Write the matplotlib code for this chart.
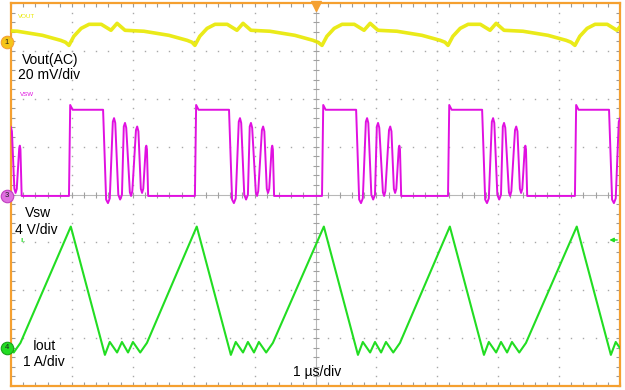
import matplotlib.pyplot as plt
import numpy as np

# time base 1 us/div, 10 div across; values
edges_us = [-1.125, 0.952, 3.020, 5.107, 7.176, 9.260]   # Vsw rising edges (us)

# one switching cycle, offsets from the rising edge
vsw_dt = [0.0, 0.02, 0.06, 0.56, 0.61, 0.64, 0.67, 0.72, 0.74, 0.76,
          0.81, 0.84, 0.87, 0.90, 0.92, 0.94, 1.00, 1.02, 1.04,
          1.10, 1.12, 1.14, 1.18, 1.20, 1.22, 1.26, 1.27, 1.28, 1.30]
vsw_v = [0.0, 7.6, 7.2, 7.2, -0.3, -0.6, -0.2, 6.2, 6.5, 6.1,
         0.1, -0.3, 0.1, 5.8, 6.1, 5.7, 0.3, 0.0, 0.4,
         5.5, 5.8, 5.4, 0.6, 0.25, 0.6, 4.0, 4.2, 3.9, 0.0]

il_dt = [0.03, 0.59, 0.67, 0.79, 0.87, 0.97, 1.05, 1.17, 1.28]
il_a = [2.53, -0.15, 0.12, -0.10, 0.12, -0.10, 0.12, -0.10, 0.10]

vout_dt = [0.0, 0.08, 0.20, 0.33, 0.53, 0.69, 0.79, 0.92, 1.23, 1.64, 1.94, 2.02]
vout_mv = [-1.3, 2.5, 5.8, 7.5, 7.5, 5.0, 7.9, 5.0, 4.6, 2.9, 0.8, 0.0]

# channel scale (unit/div) and ground position (div)
ch_scale = {"vout": 20.0, "vsw": 4.0, "il": 1.0}
ch_offset = {"vout": 3.18, "vsw": -0.03, "il": -3.20}

YELLOW = "#E8E800"
MAGENTA = "#E010E0"
GREEN = "#22DD22"
ORANGE = "#F5A030"
GRID = "#A8A8A8"

W, H = 625, 390


def trace(dt, val, ch):
    t = np.concatenate([np.asarray(dt) + e for e in edges_us])
    v = np.tile(val, len(edges_us)) / ch_scale[ch] + ch_offset[ch]
    return t, v


plt.rcParams["font.family"] = ["Liberation Sans", "DejaVu Sans"]

fig = plt.figure(figsize=(W / 100, H / 100), dpi=100)
ax = fig.add_axes([11 / W, 4 / H, 609 / W, 383 / H])
ax.set_xlim(0, 10)
ax.set_ylim(-4, 4)

for s in ax.spines.values():
    s.set_color(ORANGE)
    s.set_linewidth(1.6)

minor_x = np.arange(0, 10.01, 0.2)
minor_y = np.arange(-4, 4.01, 0.2)
ax.set_xticks(minor_x)
ax.set_yticks(minor_y)
ax.tick_params(direction="in", length=3, width=0.8, color="#9A9A9A",
               top=True, right=True, labelbottom=False, labelleft=False)

# dotted graticule
for gy in range(-3, 4):
    if gy != 0:
        ax.plot(minor_x, np.full_like(minor_x, gy), ls="none", marker="s",
                ms=1.0, mew=0, color=GRID, zorder=1)
for gx in range(1, 10):
    if gx != 5:
        ax.plot(np.full_like(minor_y, gx), minor_y, ls="none", marker="s",
                ms=1.0, mew=0, color=GRID, zorder=1)

# centre cross with ticks
ax.axhline(0, color="#B8B8B8", lw=0.8, zorder=1)
ax.axvline(5, color="#B8B8B8", lw=0.8, zorder=1)
ax.plot(minor_x, np.zeros_like(minor_x), ls="none", marker="|", ms=4,
        mew=0.8, color="#A0A0A0", zorder=1)
ax.plot(np.full_like(minor_y, 5), minor_y, ls="none", marker="_", ms=4,
        mew=0.8, color="#A0A0A0", zorder=1)

# traces
t, v = trace(vout_dt, vout_mv, "vout")
ax.plot(t, v, color=YELLOW, lw=2.6, alpha=0.9, zorder=3)
t, v = trace(vsw_dt, vsw_v, "vsw")
ax.plot(t, v, color=MAGENTA, lw=1.4, zorder=3)
t, v = trace(il_dt, il_a, "il")
ax.plot(t, v, color=GREEN, lw=1.5, zorder=4)

# channel ground markers
markers = [("1", "vout", "#F5C518", ORANGE),
           ("3", "vsw", "#E070E0", "#C040C0"),
           ("4", "il", GREEN, "#18A018")]
for label, ch, fc, ec in markers:
    ax.plot([-0.066], [ch_offset[ch]], marker="o", ms=9, mfc=fc, mec=ec,
            mew=0.8, clip_on=False, zorder=6)
    ax.text(-0.066, ch_offset[ch], label, fontsize=5.5, ha="center",
            va="center", color="#202020", zorder=7, clip_on=False)

# trigger position and level
ax.plot([5], [3.93], marker="v", ms=6.5, color=ORANGE, clip_on=False, zorder=6)
ax.annotate("", xy=(9.78, -0.95), xytext=(10.0, -0.95),
            arrowprops=dict(arrowstyle="-|>", color=GREEN, lw=1.0,
                            mutation_scale=6), zorder=6)


def label(px, py, s, **kw):
    fig.text(px / W, 1 - py / H, s, va="center", ha="left", **kw)


label(18, 17, "VOUT", fontsize=4.5, color=YELLOW)
label(20, 94, "VSW", fontsize=4.5, color=MAGENTA)
label(20, 241, "IL", fontsize=4.5, color=GREEN)

label(22, 60, "Vout(AC)", fontsize=10)
label(18, 75, "20 mV/div", fontsize=10)
label(25, 213, "Vsw", fontsize=10)
label(15, 230, "4 V/div", fontsize=10)
label(33, 346, "Iout", fontsize=10)
label(23, 362, "1 A/div", fontsize=10)
label(293, 372, "1 \u00b5s/div", fontsize=10)

fig.savefig("out.png", dpi=100)
